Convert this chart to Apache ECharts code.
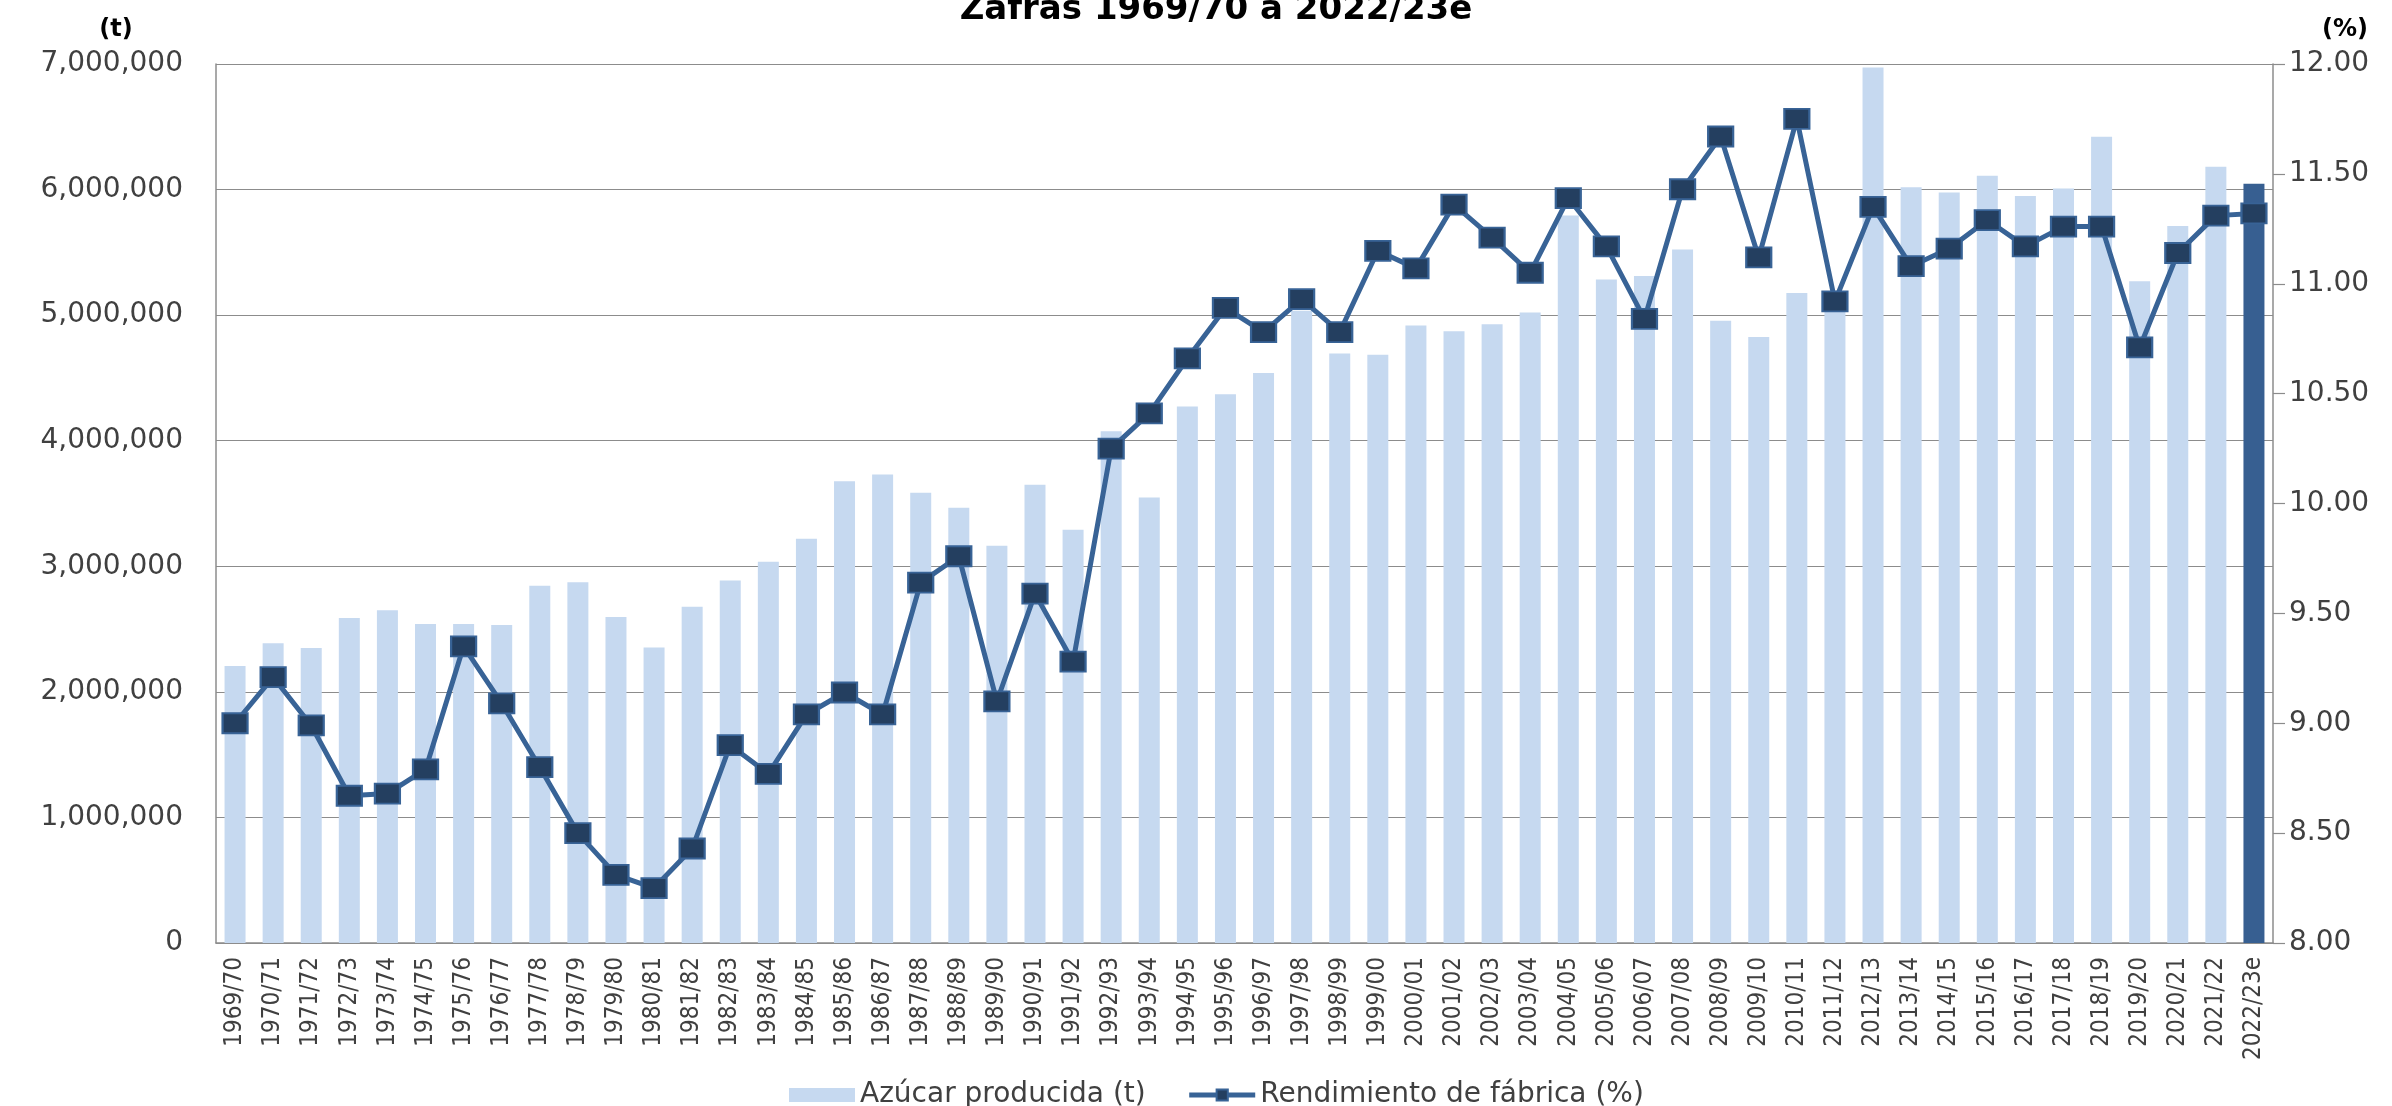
<!DOCTYPE html>
<html>
<head>
<meta charset="utf-8">
<title>Zafras 1969/70 a 2022/23e</title>
<script src="https://cdn.jsdelivr.net/npm/echarts@6/dist/echarts.min.js"></script>
<style>
  html, body { margin: 0; padding: 0; background: #fff; }
  #chart { width: 2392px; height: 1106px; }
</style>
</head>
<body>
<div id="chart"></div>
<script>
var zafras = ['1969/70', '1970/71', '1971/72', '1972/73', '1973/74', '1974/75', '1975/76', '1976/77',
    '1977/78', '1978/79', '1979/80', '1980/81', '1981/82', '1982/83', '1983/84', '1984/85',
    '1985/86', '1986/87', '1987/88', '1988/89', '1989/90', '1990/91', '1991/92', '1992/93',
    '1993/94', '1994/95', '1995/96', '1996/97', '1997/98', '1998/99', '1999/00', '2000/01',
    '2001/02', '2002/03', '2003/04', '2004/05', '2005/06', '2006/07', '2007/08', '2008/09',
    '2009/10', '2010/11', '2011/12', '2012/13', '2013/14', '2014/15', '2015/16', '2016/17',
    '2017/18', '2018/19', '2019/20', '2020/21', '2021/22', '2022/23e'];

// azucar producida (t)
var azucar = [2205000, 2387000, 2349000, 2588000, 2649000, 2541000, 2541000, 2532000,
    2845000, 2873000, 2597000, 2354000, 2677000, 2887000, 3037000, 3219000,
    3678000, 3730000, 3585000, 3467000, 3163000, 3650000, 3290000, 4076000,
    3547000, 4272000, 4371000, 4539000, 5035000, 4694000, 4684000, 4918000,
    4871000, 4927000, 5021000, 5793000, 5283000, 5311000, 5522000, 4955000,
    4825000, 5176000, 5070000, 6972000, 6018000, 5976000, 6111000, 5948000,
    6008000, 6420000, 5269000, 5709000, 6181000, 6046000];

// rendimiento de fabrica (%)
var rendimiento = [9.00, 9.21, 8.99, 8.67, 8.68, 8.79, 9.35, 9.09,
    8.80, 8.50, 8.31, 8.25, 8.43, 8.90, 8.77, 9.04,
    9.14, 9.04, 9.64, 9.76, 9.10, 9.59, 9.28, 10.25,
    10.41, 10.66, 10.89, 10.78, 10.93, 10.78, 11.15, 11.07,
    11.36, 11.21, 11.05, 11.39, 11.17, 10.84, 11.43, 11.67,
    11.12, 11.75, 10.92, 11.35, 11.08, 11.16, 11.29, 11.17,
    11.26, 11.26, 10.71, 11.14, 11.31, 11.32];

var ticksT = [0, 7000000, 1000000];   // min, max, paso
var ticksPct = [8, 12, 0.5];

var gris = '#8c8c8c';
var texto = '#404040';

var myChart = echarts.init(document.getElementById('chart'));

// la ultima zafra (estimada) va en azul oscuro
var barras = azucar.map(function (v, i) {
    if (i === azucar.length - 1) {
        return { value: v, itemStyle: { color: '#375f91' } };
    }
    return v;
});

var option = {
    animation: false,
    backgroundColor: '#fff',
    title: {
        text: 'Zafras 1969/70 a 2022/23e',
        left: 1216,
        top: -7,
        padding: 0,
        textAlign: 'center',
        textStyle: {
            fontFamily: 'DejaVu Sans',
            fontSize: 34,
            fontWeight: 'bold',
            color: '#000'
        }
    },
    graphic: [
        {
            type: 'text', x: 116, y: 30,
            style: { text: '(t)', fontFamily: 'DejaVu Sans', fontSize: 24, fontWeight: 'bold',
                fill: '#000', align: 'center', verticalAlign: 'middle' }
        },
        {
            type: 'text', x: 2345, y: 30,
            style: { text: '(%)', fontFamily: 'DejaVu Sans', fontSize: 24, fontWeight: 'bold',
                fill: '#000', align: 'center', verticalAlign: 'middle' }
        }
    ],
    legend: {
        left: 784,
        top: 1076,
        itemWidth: 66,
        itemHeight: 14,
        itemGap: 41,
        lineStyle: { width: 5 },
        textStyle: { fontFamily: 'DejaVu Sans', fontSize: 28, color: texto },
        data: [
            { name: 'Azúcar producida (t)', icon: 'rect' },
            'Rendimiento de fábrica (%)'
        ]
    },
    grid: {
        left: 216,
        right: 119,
        top: 64,
        bottom: 163
    },
    xAxis: {
        type: 'category',
        data: zafras,
        axisLine: { lineStyle: { color: gris, width: 1.5 } },
        axisTick: { show: false },
        axisLabel: {
            rotate: 90,
            interval: 0,
            margin: 14,
            fontFamily: "'Liberation Sans Narrow', 'DejaVu Sans Condensed', sans-serif",
            fontSize: 24,
            color: texto
        }
    },
    yAxis: [
        {
            type: 'value',
            min: ticksT[0],
            max: ticksT[1],
            interval: ticksT[2],
            axisLine: { show: true, lineStyle: { color: gris, width: 1.5 } },
            axisTick: { show: false },
            splitLine: { lineStyle: { color: gris, width: 1.2 } },
            axisLabel: {
                margin: 33,
                fontFamily: 'DejaVu Sans',
                fontSize: 28,
                color: texto,
                formatter: function (v) { return v.toLocaleString('en-US'); }
            }
        },
        {
            type: 'value',
            position: 'right',
            min: ticksPct[0],
            max: ticksPct[1],
            interval: ticksPct[2],
            axisLine: { show: true, lineStyle: { color: gris, width: 1.5 } },
            axisTick: { show: true, length: 12, lineStyle: { color: gris, width: 1.2 } },
            splitLine: { show: false },
            axisLabel: {
                margin: 16,
                fontFamily: 'DejaVu Sans',
                fontSize: 28,
                color: texto,
                formatter: function (v) { return v.toFixed(2); }
            }
        }
    ],
    series: [
        {
            name: 'Azúcar producida (t)',
            type: 'bar',
            barWidth: 21,
            itemStyle: { color: '#c6d9f0' },
            data: barras
        },
        {
            name: 'Rendimiento de fábrica (%)',
            type: 'line',
            yAxisIndex: 1,
            z: 3,
            symbol: 'rect',
            symbolSize: [25, 20],
            lineStyle: { color: '#386396', width: 5 },
            itemStyle: { color: '#243f60', borderColor: '#386396', borderWidth: 2 },
            data: rendimiento
        }
    ]
};

myChart.setOption(option);
</script>
</body>
</html>
